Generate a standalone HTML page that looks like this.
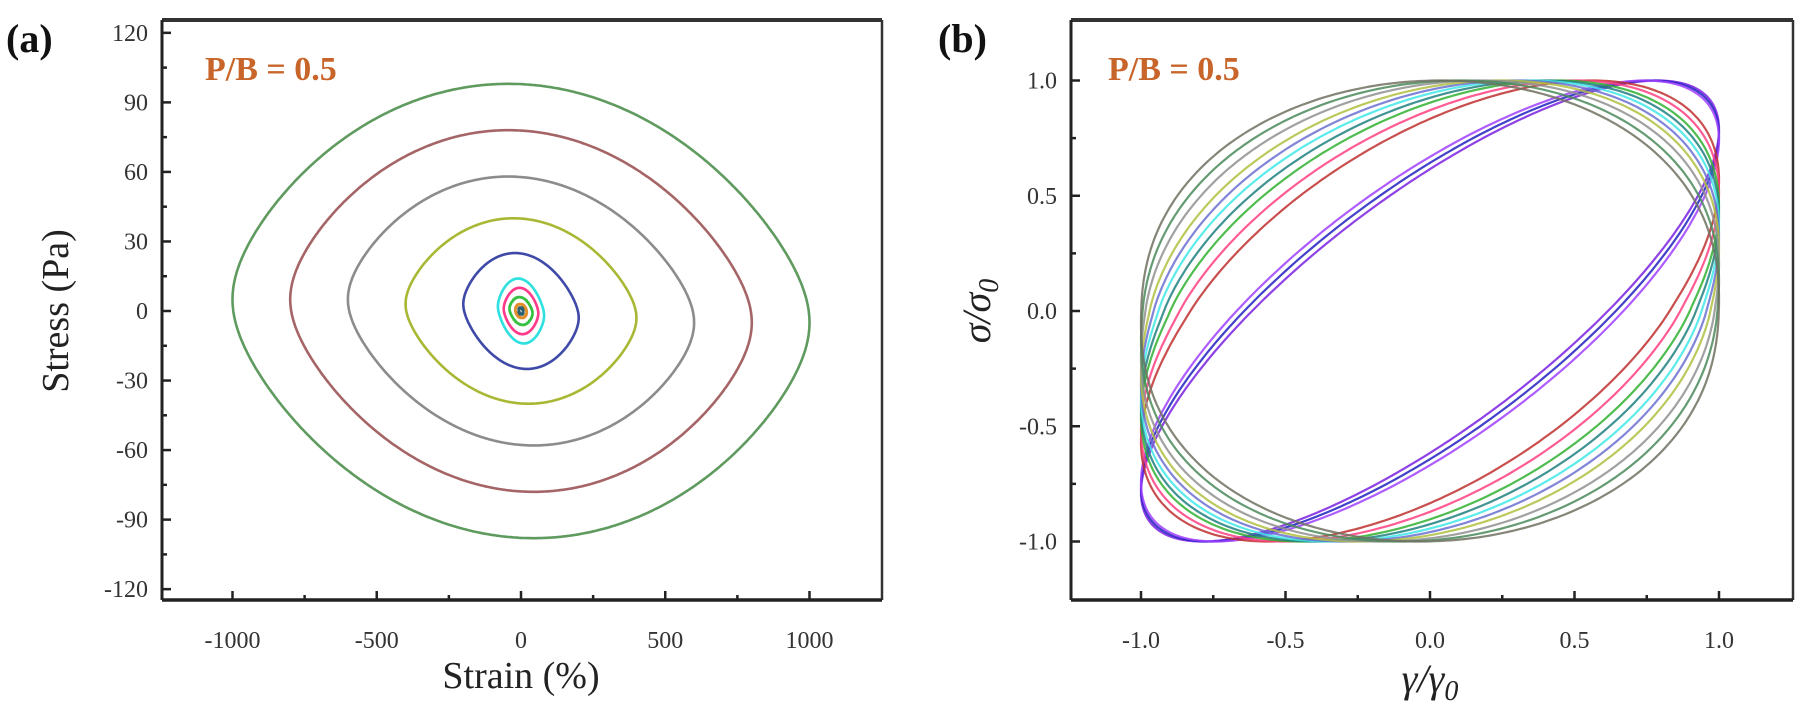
<!DOCTYPE html>
<html><head><meta charset="utf-8"><style>
html,body{margin:0;padding:0;background:#fff;}
svg{display:block;font-family:"Liberation Serif",serif;}
</style></head><body>
<svg id="fig" width="1800" height="712" viewBox="0 0 1800 712"></svg>
<script>
// ---- Panel (a) data: loop amplitudes ----
const aStrainAmp = [1000, 800, 600, 400, 200, 80, 60, 40, 20, 8];
const aStressAmp = [98, 78, 58, 40, 25, 14, 10, 6, 3, 1.5];
const aStartStress = [5, 5, 5, 3, 3, 2, 1, 1, 0.5, 0.2];
const aColors = ["#5f9a5f","#a56566","#8c8c8c","#a9b834","#3f4aa8","#2fe0e0","#ff3a8a","#35c040","#e0902a","#2a6070"];
const aXTicks = [-1000,-500,0,500,1000];
const aYTicks = [-120,-90,-60,-30,0,30,60,90,120];
// ---- Panel (b) data: phase angles (deg) and squareness ----
const bPhase = [38, 40, 42, 56, 60, 64, 67, 70, 73, 76, 80, 84, 88];
const bSquare = [1.0, 1.0, 1.0, 0.97, 0.96, 0.95, 0.94, 0.93, 0.93, 0.92, 0.9, 0.9, 0.88];
const bColors = ["#7a20e0","#2020c0","#a040ff","#c03030","#ff4080","#30b030","#208080","#40e8e8","#6a70d0","#b0c040","#909090","#4a8a5a","#707060"];
const bXTicks = [-1.0,-0.5,0.0,0.5,1.0];
const bYTicks = [-1.0,-0.5,0.0,0.5,1.0];

const NS="http://www.w3.org/2000/svg";
const svg=document.getElementById('fig');
function mk(tag,attrs,parent){const e=document.createElementNS(NS,tag);for(const k in attrs)e.setAttribute(k,attrs[k]);(parent||svg).appendChild(e);return e;}

const ax={x0:162,x1:882,y0:20,y1:600};
const axX=v=>521+v*0.2885;
const axY=v=>311-v*2.318;
const bx={x0:1071,x1:1793,y0:20,y1:600};
const bxX=v=>1430+v*289;
const bxY=v=>311-v*230.5;

function spow(v,p){return Math.sign(v)*Math.pow(Math.abs(v),p);}
const TRI=Math.asin(0.97);
function tri(c){return Math.asin(0.97*c)/TRI;}

// ---------- Panel (a) ----------
const ga=mk('g',{});


for(let i=0;i<aStrainAmp.length;i++){
  const g0=aStrainAmp[i], s0=aStressAmp[i], phi=Math.asin(Math.min(0.9,aStartStress[i]/s0));
  let d='';
  for(let k=0;k<=720;k++){
    const t=k/720*2*Math.PI;
    const gam=-g0*(0.55*tri(Math.cos(t))+0.45*Math.cos(t));
    const sig=s0*Math.sin(t+phi);
    d+=(k?'L':'M')+axX(gam).toFixed(1)+','+axY(sig).toFixed(1);
  }
  const p=mk('path',{d:d+'Z',fill:'none',stroke:aColors[i],'stroke-width':2.6},ga);
  
  
}
function frame(b,g,xt,yt,X,Y,fmtX,fmtY,xminor,yminor,nm){
  mk('line',{x1:b.x0,y1:b.y0,x2:b.x1,y2:b.y0,stroke:'#333','stroke-width':4},g);
  mk('line',{x1:b.x1,y1:b.y0,x2:b.x1,y2:b.y1,stroke:'#333','stroke-width':2.5},g);
  mk('line',{x1:b.x0,y1:b.y0,x2:b.x0,y2:b.y1,stroke:'#222','stroke-width':3},g);
  mk('line',{x1:b.x0,y1:b.y1,x2:b.x1,y2:b.y1,stroke:'#222','stroke-width':3.5},g);
  xt.forEach(v=>{const x=X(v);mk('line',{x1:x,y1:b.y1,x2:x,y2:b.y1-9,stroke:'#222','stroke-width':2.5},g);
    const t=mk('text',{x:x,y:b.y1+48,'text-anchor':'middle','font-size':24,fill:'#333'},g);t.textContent=fmtX(v);
    });
  xminor.forEach(v=>{const x=X(v);mk('line',{x1:x,y1:b.y1,x2:x,y2:b.y1-5,stroke:'#222','stroke-width':2.5},g);});
  yt.forEach(v=>{const y=Y(v);mk('line',{x1:b.x0,y1:y,x2:b.x0+9,y2:y,stroke:'#222','stroke-width':2.5},g);
    const t=mk('text',{x:b.x0-14,y:y+8,'text-anchor':'end','font-size':24,fill:'#333'},g);t.textContent=fmtY(v);
    });
  yminor.forEach(v=>{const y=Y(v);mk('line',{x1:b.x0,y1:y,x2:b.x0+5,y2:y,stroke:'#222','stroke-width':2.5},g);});
}
frame(ax,ga,aXTicks,aYTicks,axX,axY,v=>String(v),v=>String(v),[-750,-250,250,750],[-105,-75,-45,-15,15,45,75,105],'a');

// ---------- Panel (b) ----------
const gb=mk('g',{});


for(let i=0;i<bPhase.length;i++){
  const dl=bPhase[i]*Math.PI/180, q=bSquare[i];
  let d='';
  for(let k=0;k<=360;k++){
    const t=k/360*2*Math.PI;
    const gam=Math.cos(t);
    const sig=spow(Math.cos(t-dl),q);
    d+=(k?'L':'M')+bxX(gam).toFixed(1)+','+bxY(sig).toFixed(1);
  }
  const p=mk('path',{d:d+'Z',fill:'none',stroke:bColors[i],'stroke-width':2.2,'stroke-opacity':0.85},gb);
  
  
}
frame(bx,gb,bXTicks,bYTicks,bxX,bxY,v=>v.toFixed(1),v=>v.toFixed(1),[-0.75,-0.25,0.25,0.75],[-0.75,-0.25,0.25,0.75],'b');

// ---------- Labels ----------
function txt(s,attrs,name){const t=mk('text',attrs);t.textContent=s;return t;}
txt('(a)',{x:6,y:52,'font-size':40,'font-weight':'bold',fill:'#111'},'panel-a-label');
txt('(b)',{x:938,y:52,'font-size':40,'font-weight':'bold',fill:'#111'},'panel-b-label');
txt('P/B = 0.5',{x:205,y:80,'font-size':34,'font-weight':'bold',fill:'#c8652a'},'annotation-a');
txt('P/B = 0.5',{x:1108,y:80,'font-size':34,'font-weight':'bold',fill:'#c8652a'},'annotation-b');
txt('Strain (%)',{x:521,y:688,'text-anchor':'middle','font-size':38,fill:'#222'},'x-axis-title-a');
txt('Stress (Pa)',{x:0,y:0,'text-anchor':'middle','font-size':38,fill:'#222',transform:'translate(68,311) rotate(-90)'},'y-axis-title-a');
const xb=txt('',{x:1430,y:692,'text-anchor':'middle','font-size':40,'font-style':'italic',fill:'#222'},'x-axis-title-b');
xb.innerHTML='γ/γ<tspan font-size="28" dy="8">0</tspan>';
const yb=txt('',{x:0,y:0,'text-anchor':'middle','font-size':40,'font-style':'italic',fill:'#222',transform:'translate(990,311) rotate(-90)'},'y-axis-title-b');
yb.innerHTML='σ/σ<tspan font-size="28" dy="8">0</tspan>';
</script>
</body></html>
